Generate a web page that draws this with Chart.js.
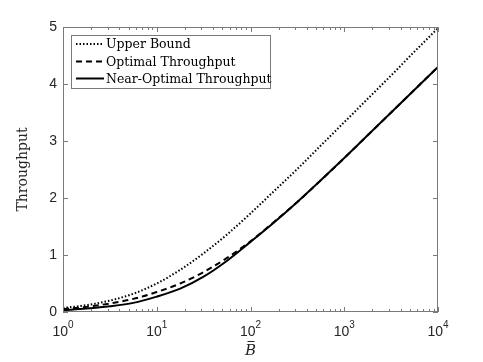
<!DOCTYPE html>
<html>
<head>
<meta charset="utf-8">
<script src="https://cdn.jsdelivr.net/npm/chart.js@4.4.1/dist/chart.umd.min.js"></script>
<style>
  html, body { margin: 0; padding: 0; background: #fff; }
  canvas { display: block; }
</style>
</head>
<body>
<canvas id="chart" width="483" height="362"></canvas>
<script>
// B-bar sample points (log-spaced)
const bValues = [1, 1.78, 3.16, 5.62, 10, 17.8, 31.6, 56.2, 100, 178, 316, 562, 1000, 1778, 3162, 5623, 10000];
const upperBound = [0.07, 0.12, 0.20, 0.32, 0.50, 0.74, 1.03, 1.36, 1.73, 2.12, 2.51, 2.92, 3.33, 3.74, 4.15, 4.57, 4.98];
const optimal = [0.05, 0.09, 0.15, 0.23, 0.35, 0.50, 0.70, 0.95, 1.24, 1.58, 1.93, 2.31, 2.70, 3.10, 3.50, 3.90, 4.30];
const nearOptimal = [0.03, 0.06, 0.10, 0.16, 0.27, 0.41, 0.62, 0.90, 1.23, 1.57, 1.93, 2.31, 2.70, 3.10, 3.50, 3.90, 4.30];
const seriesLabels = ['Upper Bound', 'Optimal Throughput', 'Near-Optimal Throughput'];
const yTicks = [0, 1, 2, 3, 4, 5];
const xDecades = [0, 1, 2, 3, 4];

const AXIS = '#7a7a7a';
const LINE = '#000000';
const SANS = '"Liberation Sans", Arial, sans-serif';
const SERIF = '"DejaVu Serif", "Liberation Serif", serif';

const pts = (ys) => bValues.map((b, i) => ({ x: b, y: ys[i] }));

// Draws the MATLAB-style box, inward ticks, labels and the legend
const matlabAxes = {
  id: 'matlabAxes',
  afterDraw(chart) {
    const { ctx, chartArea: a } = chart;
    const xs = chart.scales.x, ys = chart.scales.y;
    ctx.save();
    ctx.strokeStyle = AXIS;
    ctx.lineWidth = 1;
    ctx.strokeRect(a.left + 0.5, a.top + 0.5, a.right - a.left - 1, a.bottom - a.top - 1);

    // y ticks (left and right)
    ctx.beginPath();
    yTicks.forEach((v) => {
      const y = Math.round(ys.getPixelForValue(v)) + 0.5;
      ctx.moveTo(a.left, y); ctx.lineTo(a.left + 5, y);
      ctx.moveTo(a.right, y); ctx.lineTo(a.right - 5, y);
    });
    // x ticks (bottom and top), major + minor
    xDecades.forEach((d) => {
      for (let m = 1; m <= 9; m++) {
        const v = m * Math.pow(10, d);
        if (v > 10000) break;
        const x = Math.round(xs.getPixelForValue(v)) + 0.5;
        const len = m === 1 ? 5 : 3;
        ctx.moveTo(x, a.bottom); ctx.lineTo(x, a.bottom - len);
        ctx.moveTo(x, a.top); ctx.lineTo(x, a.top + len);
      }
    });
    ctx.stroke();

    // y tick labels
    ctx.fillStyle = '#262626';
    ctx.font = '14px ' + SANS;
    ctx.textAlign = 'right';
    ctx.textBaseline = 'middle';
    yTicks.forEach((v) => ctx.fillText(String(v), a.left - 6, ys.getPixelForValue(v)));

    // x tick labels 10^d
    xDecades.forEach((d) => {
      const x = xs.getPixelForValue(Math.pow(10, d));
      ctx.font = '14px ' + SANS;
      const w1 = ctx.measureText('10').width;
      ctx.font = '10px ' + SANS;
      const w2 = ctx.measureText(String(d)).width;
      const x0 = x - (w1 + w2) / 2;
      ctx.textAlign = 'left';
      ctx.textBaseline = 'alphabetic';
      ctx.font = '14px ' + SANS;
      ctx.fillText('10', x0, a.bottom + 24);
      ctx.font = '10px ' + SANS;
      ctx.fillText(String(d), x0 + w1, a.bottom + 16);
    });

    // axis titles
    ctx.fillStyle = '#262626';
    ctx.font = 'italic 15px ' + SERIF;
    ctx.textAlign = 'center';
    ctx.textBaseline = 'alphabetic';
    const cx = (a.left + a.right) / 2;
    ctx.fillText('B', cx, a.bottom + 43);
    ctx.fillRect(cx - 3, a.bottom + 29, 7, 1);

    ctx.save();
    ctx.translate(23, (a.top + a.bottom) / 2);
    ctx.rotate(-Math.PI / 2);
    ctx.font = '14px ' + SERIF;
    ctx.textBaseline = 'middle';
    ctx.fillText('Throughput', 0, 0);
    ctx.restore();

    // legend
    const lx = 71.5, ly = 35.5, lw = 199, lh = 53;
    ctx.fillStyle = '#fff';
    ctx.fillRect(lx, ly, lw, lh);
    ctx.strokeStyle = AXIS;
    ctx.strokeRect(lx, ly, lw, lh);
    const rows = [44, 61.5, 78.5];
    chart.data.datasets.forEach((ds, i) => {
      ctx.strokeStyle = LINE;
      ctx.lineWidth = ds.borderWidth;
      ctx.setLineDash(ds.borderDash || []);
      ctx.beginPath();
      ctx.moveTo(76, rows[i]);
      ctx.lineTo(104, rows[i]);
      ctx.stroke();
      ctx.setLineDash([]);
      ctx.fillStyle = '#000';
      ctx.font = '12.5px ' + SERIF;
      ctx.textAlign = 'left';
      ctx.textBaseline = 'middle';
      ctx.fillText(ds.label, 106, rows[i] + 1);
    });
    ctx.restore();
  }
};

new Chart(document.getElementById('chart'), {
  type: 'line',
  data: {
    datasets: [
      { label: seriesLabels[0], data: pts(upperBound), borderColor: LINE, borderWidth: 2, borderDash: [1.5, 2], pointRadius: 0, cubicInterpolationMode: 'monotone' },
      { label: seriesLabels[1], data: pts(optimal), borderColor: LINE, borderWidth: 2, borderDash: [6, 4], pointRadius: 0, cubicInterpolationMode: 'monotone' },
      { label: seriesLabels[2], data: pts(nearOptimal), borderColor: LINE, borderWidth: 2, pointRadius: 0, cubicInterpolationMode: 'monotone' },
    ],
  },
  options: {
    responsive: false,
    animation: false,
    layout: { padding: { left: 63, right: 45, top: 27, bottom: 50 } },
    scales: {
      x: { type: 'logarithmic', min: 1, max: 10000, display: false },
      y: { type: 'linear', min: 0, max: 5, display: false },
    },
    plugins: { legend: { display: false }, tooltip: { enabled: false } },
  },
  plugins: [matlabAxes],
});
</script>
</body>
</html>
